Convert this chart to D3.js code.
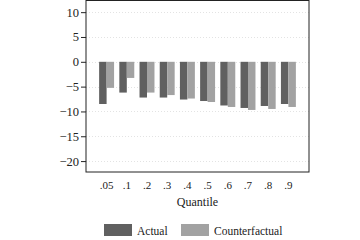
<!DOCTYPE html>
<html>
<head>
<meta charset="utf-8">
<script src="https://cdnjs.cloudflare.com/ajax/libs/d3/7.8.5/d3.min.js"></script>
<style>
  body { margin: 0; background: #fff; }
  text { font-family: "Liberation Serif", "DejaVu Serif", serif; fill: #222; }
</style>
</head>
<body>
<div id="chart"></div>
<script>
const quantiles = [".05", ".1", ".2", ".3", ".4", ".5", ".6", ".7", ".8", ".9"];
const actual = [-8.5, -6.2, -7.2, -7.2, -7.6, -7.9, -8.8, -9.3, -8.9, -8.5];
const counterfactual = [-5.25, -3.25, -6.2, -6.7, -7.4, -8.1, -9.1, -9.7, -9.5, -9.1];
const yTicks = [10, 5, 0, -5, -10, -15, -20];
const seriesNames = ["Actual", "Counterfactual"];
const colors = ["#606060", "#a2a2a2"];

const width = 360, height = 240;
const plotLeft = 86, plotRight = 309, plotTop = 0.5, plotBottom = 172;

const svg = d3.select("#chart").append("svg")
  .attr("width", width).attr("height", height);

const y = d3.scaleLinear().domain([-22.2, 12.35]).range([plotBottom, plotTop]);
const x = d3.scaleBand().domain(quantiles).range([plotLeft, plotRight])
  .paddingInner(0.26).paddingOuter(0.65);
const xs = d3.scaleBand().domain(seriesNames).range([0, x.bandwidth()]);

// grid
svg.append("g").selectAll("line").data(yTicks).join("line")
  .attr("x1", plotLeft).attr("x2", plotRight)
  .attr("y1", d => Math.round(y(d)) + 0.5).attr("y2", d => Math.round(y(d)) + 0.5)
  .attr("stroke", "#dcdcdc").attr("stroke-width", 0.8)
  .attr("stroke-dasharray", "1,2");

// bars
const groups = svg.append("g").selectAll("g").data(quantiles).join("g")
  .attr("transform", d => `translate(${x(d)},0)`);
groups.selectAll("rect")
  .data((d, i) => [actual[i], counterfactual[i]].map((v, j) => ({ v, s: seriesNames[j], c: colors[j] })))
  .join("rect")
  .attr("x", d => xs(d.s))
  .attr("width", xs.bandwidth())
  .attr("y", d => y(Math.max(0, d.v)))
  .attr("height", d => Math.abs(y(d.v) - y(0)))
  .attr("fill", d => d.c);

// frame
svg.append("rect")
  .attr("x", plotLeft).attr("y", plotTop)
  .attr("width", plotRight - plotLeft).attr("height", plotBottom - plotTop)
  .attr("fill", "none").attr("stroke", "#222").attr("stroke-width", 1);

// y axis
const yAxis = d3.axisLeft(y).tickValues(yTicks).tickSize(5).tickPadding(2)
  .tickFormat(d => d < 0 ? "\u2212" + Math.abs(d) : d);
const ya = svg.append("g").attr("transform", `translate(${plotLeft},0)`).call(yAxis);
ya.select(".domain").remove();
ya.selectAll("line").attr("stroke", "#222");
ya.selectAll("text").style("font-size", "12.5px").attr("fill", "#222");

// x labels
svg.append("g").selectAll("text").data(quantiles).join("text")
  .attr("x", d => x(d) + x.bandwidth() / 2)
  .attr("y", 189)
  .attr("text-anchor", "middle")
  .style("font-size", "11px")
  .text(d => d);

svg.append("text")
  .attr("x", (plotLeft + plotRight) / 2).attr("y", 206)
  .attr("text-anchor", "middle")
  .style("font-size", "12px")
  .text("Quantile");

// legend
const legendX = [104, 181];
const lg = svg.append("g").selectAll("g").data(seriesNames).join("g")
  .attr("transform", (d, i) => `translate(${legendX[i]},224)`);
lg.append("rect").attr("width", 28).attr("height", 12)
  .attr("fill", (d, i) => colors[i]);
lg.append("text").attr("x", 33).attr("y", 10.5)
  .style("font-size", "11.5px")
  .text(d => d);
</script>
</body>
</html>
